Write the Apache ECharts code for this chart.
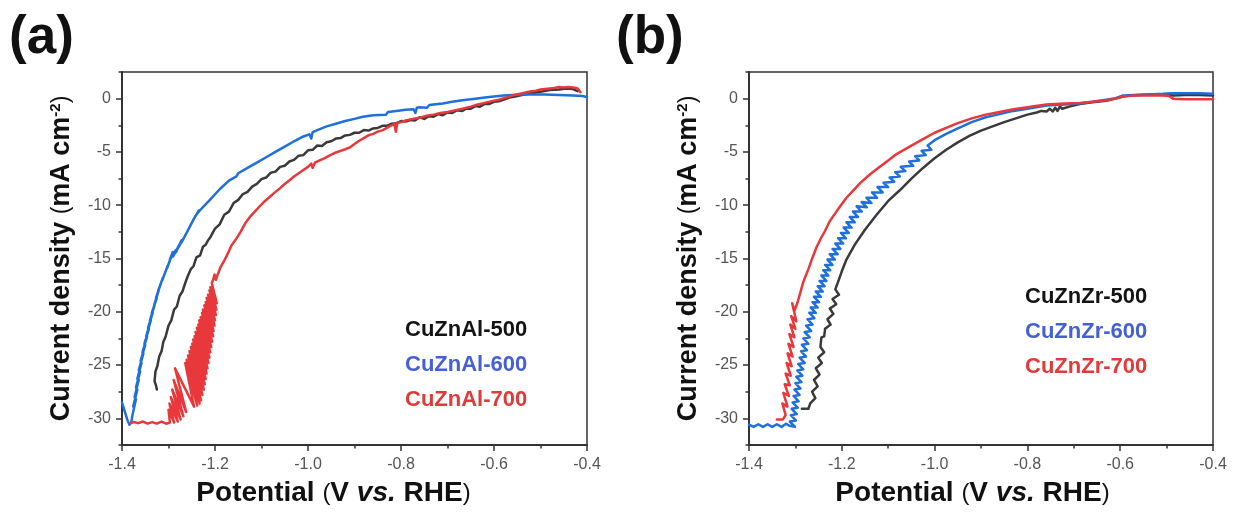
<!DOCTYPE html>
<html>
<head>
<meta charset="utf-8">
<script src="https://cdn.jsdelivr.net/npm/echarts@6/dist/echarts.min.js"></script>
<style>
html,body{margin:0;padding:0;background:#fff;}
#chart{width:1238px;height:512px;}
</style>
</head>
<body>
<div id="chart"></div>
<script>
// ---------- data ----------
const potentialTicks = [-1.4, -1.2, -1.0, -0.8, -0.6, -0.4];
const currentTicks = [0, -5, -10, -15, -20, -25, -30];
const panelLabels = ['(a)', '(b)'];
const namesA = ['CuZnAl-500', 'CuZnAl-600', 'CuZnAl-700'];
const namesB = ['CuZnZr-500', 'CuZnZr-600', 'CuZnZr-700'];

// [potential (V vs RHE), current density (mA cm-2)]
const al500 = [[-0.420,0.7],[-0.430,0.9],[-0.445,0.95],[-0.460,0.85],[-0.480,0.8],[-0.500,0.65],[-0.520,0.5],[-0.540,0.35],[-0.555,0.2],[-0.567,0.1],[-0.580,-0.1],[-0.590,-0.25],[-0.600,-0.3],[-0.610,-0.5],[-0.620,-0.5],[-0.630,-0.75],[-0.640,-0.7],[-0.650,-0.95],[-0.660,-0.95],[-0.668,-1.15],[-0.680,-1.1],[-0.690,-1.35],[-0.700,-1.3],[-0.710,-1.55],[-0.720,-1.45],[-0.730,-1.7],[-0.740,-1.65],[-0.750,-1.9],[-0.760,-1.75],[-0.770,-2.05],[-0.780,-2.0],[-0.790,-2.15],[-0.800,-2.1],[-0.810,-2.3],[-0.820,-2.35],[-0.830,-2.55],[-0.840,-2.55],[-0.850,-2.75],[-0.860,-2.8],[-0.870,-3.0],[-0.880,-2.95],[-0.890,-3.2],[-0.900,-3.2],[-0.910,-3.4],[-0.920,-3.45],[-0.930,-3.7],[-0.940,-3.75],[-0.950,-4.0],[-0.960,-4.1],[-0.970,-4.45],[-0.980,-4.4],[-0.990,-4.8],[-1.000,-4.85],[-1.010,-5.3],[-1.020,-5.35],[-1.030,-5.75],[-1.040,-5.9],[-1.050,-6.3],[-1.060,-6.4],[-1.070,-6.85],[-1.080,-6.95],[-1.090,-7.4],[-1.100,-7.55],[-1.110,-8.0],[-1.120,-8.25],[-1.130,-8.75],[-1.140,-8.95],[-1.150,-9.5],[-1.160,-9.8],[-1.170,-10.6],[-1.180,-10.9],[-1.190,-11.8],[-1.200,-12.2],[-1.210,-13.0],[-1.215,-13.3],[-1.220,-13.7],[-1.226,-13.9],[-1.232,-14.7],[-1.240,-14.9],[-1.246,-15.7],[-1.252,-16.0],[-1.258,-16.6],[-1.264,-17.3],[-1.270,-18.1],[-1.276,-18.5],[-1.282,-19.5],[-1.288,-19.8],[-1.294,-20.8],[-1.300,-21.3],[-1.306,-22.3],[-1.311,-22.8],[-1.315,-23.7],[-1.320,-24.2],[-1.324,-25.1],[-1.328,-25.6],[-1.330,-26.5],[-1.327,-26.9],[-1.325,-27.3]];

const al600 = [[-0.400,0.15],[-0.410,0.25],[-0.430,0.3],[-0.460,0.35],[-0.490,0.4],[-0.520,0.4],[-0.540,0.4],[-0.560,0.35],[-0.580,0.3],[-0.600,0.2],[-0.620,0.1],[-0.640,0.0],[-0.668,-0.16],[-0.690,-0.3],[-0.710,-0.45],[-0.730,-0.55],[-0.739,-0.6],[-0.744,-0.85],[-0.748,-0.68],[-0.760,-0.8],[-0.766,-0.85],[-0.769,-1.35],[-0.773,-1.0],[-0.790,-1.05],[-0.810,-1.15],[-0.828,-1.25],[-0.832,-1.5],[-0.836,-1.35],[-0.860,-1.55],[-0.882,-1.7],[-0.900,-1.9],[-0.920,-2.1],[-0.940,-2.35],[-0.960,-2.6],[-0.980,-2.95],[-0.990,-3.15],[-0.993,-3.75],[-0.997,-3.35],[-1.010,-3.55],[-1.030,-4.0],[-1.050,-4.5],[-1.070,-5.0],[-1.090,-5.5],[-1.110,-6.0],[-1.130,-6.5],[-1.150,-7.0],[-1.154,-7.3],[-1.157,-7.15],[-1.170,-7.7],[-1.190,-8.5],[-1.211,-9.5],[-1.233,-10.5],[-1.240,-10.9],[-1.235,-10.5],[-1.247,-11.4],[-1.242,-11.0],[-1.254,-12.0],[-1.248,-11.5],[-1.260,-12.5],[-1.254,-12.0],[-1.266,-13.0],[-1.260,-12.5],[-1.272,-13.5],[-1.266,-13.0],[-1.278,-13.9],[-1.272,-13.3],[-1.284,-14.4],[-1.278,-13.8],[-1.290,-14.8],[-1.284,-14.2],[-1.297,-15.1],[-1.291,-14.4],[-1.303,-15.9],[-1.297,-15.2],[-1.308,-16.4],[-1.302,-15.7],[-1.313,-17.0],[-1.307,-16.3],[-1.318,-17.5],[-1.312,-16.8],[-1.322,-18.0],[-1.316,-17.3],[-1.327,-18.7],[-1.321,-18.0],[-1.331,-19.4],[-1.325,-18.7],[-1.336,-20.1],[-1.330,-19.4],[-1.340,-20.8],[-1.334,-20.1],[-1.344,-21.5],[-1.338,-20.8],[-1.348,-22.3],[-1.342,-21.6],[-1.352,-23.0],[-1.346,-22.3],[-1.356,-23.8],[-1.350,-23.1],[-1.360,-24.6],[-1.354,-23.9],[-1.364,-25.5],[-1.358,-24.8],[-1.367,-26.3],[-1.361,-25.6],[-1.370,-27.1],[-1.364,-26.4],[-1.373,-28.0],[-1.367,-27.3],[-1.376,-28.9],[-1.370,-28.2],[-1.378,-29.8],[-1.380,-30.4],[-1.384,-30.6],[-1.388,-30.2],[-1.393,-29.5],[-1.400,-28.5]];

const al700 = [[-0.414,0.6],[-0.420,0.95],[-0.430,1.05],[-0.440,1.1],[-0.450,1.05],[-0.460,1.1],[-0.470,1.0],[-0.480,0.95],[-0.490,0.9],[-0.500,0.85],[-0.510,0.75],[-0.520,0.7],[-0.530,0.6],[-0.546,0.45],[-0.560,0.3],[-0.575,0.1],[-0.590,-0.1],[-0.605,-0.25],[-0.620,-0.4],[-0.635,-0.55],[-0.650,-0.75],[-0.668,-0.95],[-0.685,-1.1],[-0.700,-1.25],[-0.715,-1.35],[-0.730,-1.5],[-0.745,-1.6],[-0.760,-1.8],[-0.775,-1.9],[-0.790,-2.05],[-0.800,-2.2],[-0.808,-2.3],[-0.811,-3.1],[-0.814,-2.4],[-0.825,-2.6],[-0.839,-2.95],[-0.850,-3.1],[-0.860,-3.3],[-0.870,-3.45],[-0.880,-3.7],[-0.890,-3.95],[-0.900,-4.25],[-0.911,-4.6],[-0.920,-4.75],[-0.930,-4.9],[-0.940,-5.05],[-0.954,-5.35],[-0.965,-5.6],[-0.975,-5.8],[-0.985,-6.0],[-0.990,-6.5],[-0.993,-6.1],[-1.000,-6.4],[-1.010,-6.7],[-1.020,-7.0],[-1.030,-7.3],[-1.039,-7.64],[-1.050,-8.0],[-1.060,-8.4],[-1.070,-8.75],[-1.082,-9.2],[-1.095,-9.7],[-1.110,-10.4],[-1.125,-11.1],[-1.135,-11.7],[-1.145,-12.5],[-1.155,-13.2],[-1.165,-13.8],[-1.172,-14.5],[-1.180,-15.2],[-1.188,-15.8],[-1.195,-16.6],[-1.198,-17.0],[-1.201,-16.5],[-1.204,-17.0],[-1.207,-17.3],[-1.196,-19.2],[-1.210,-17.7],[-1.197,-19.8],[-1.212,-18.0],[-1.198,-20.3],[-1.215,-18.4],[-1.200,-20.8],[-1.218,-18.7],[-1.201,-21.3],[-1.220,-19.1],[-1.203,-21.8],[-1.223,-19.4],[-1.204,-22.3],[-1.226,-19.8],[-1.206,-22.8],[-1.228,-20.1],[-1.208,-23.3],[-1.231,-20.5],[-1.210,-23.8],[-1.234,-20.8],[-1.212,-24.3],[-1.236,-21.2],[-1.214,-24.8],[-1.239,-21.5],[-1.216,-25.3],[-1.242,-21.9],[-1.218,-25.8],[-1.244,-22.3],[-1.220,-26.3],[-1.247,-22.6],[-1.222,-26.8],[-1.249,-23.0],[-1.224,-27.3],[-1.252,-23.3],[-1.227,-27.8],[-1.255,-23.7],[-1.230,-28.3],[-1.258,-24.1],[-1.233,-28.6],[-1.261,-24.5],[-1.238,-28.8],[-1.264,-24.8],[-1.245,-28.9],[-1.286,-25.3],[-1.262,-29.4],[-1.289,-26.4],[-1.268,-29.8],[-1.292,-27.3],[-1.274,-30.1],[-1.295,-28.0],[-1.280,-30.3],[-1.298,-28.6],[-1.288,-30.4],[-1.300,-29.2],[-1.297,-30.4],[-1.305,-30.5],[-1.315,-30.3],[-1.325,-30.5],[-1.335,-30.35],[-1.345,-30.5],[-1.355,-30.3],[-1.365,-30.45],[-1.375,-30.35],[-1.382,-30.45]];

const zr500 = [[-0.400,0.3],[-0.430,0.35],[-0.460,0.35],[-0.486,0.3],[-0.500,0.4],[-0.530,0.4],[-0.560,0.35],[-0.580,0.3],[-0.594,0.2],[-0.610,0.0],[-0.630,-0.2],[-0.660,-0.35],[-0.687,-0.5],[-0.710,-0.75],[-0.725,-0.95],[-0.730,-0.75],[-0.735,-1.15],[-0.740,-0.85],[-0.745,-1.2],[-0.752,-0.95],[-0.758,-1.2],[-0.770,-1.15],[-0.780,-1.3],[-0.800,-1.5],[-0.825,-1.85],[-0.850,-2.2],[-0.875,-2.6],[-0.900,-3.0],[-0.925,-3.5],[-0.950,-4.1],[-0.975,-4.8],[-1.000,-5.6],[-1.025,-6.5],[-1.050,-7.5],[-1.075,-8.6],[-1.100,-9.6],[-1.125,-10.9],[-1.150,-12.3],[-1.172,-13.7],[-1.190,-15.1],[-1.200,-16.2],[-1.208,-17.2],[-1.214,-17.9],[-1.206,-18.4],[-1.220,-18.8],[-1.212,-19.3],[-1.226,-19.7],[-1.218,-20.2],[-1.231,-20.7],[-1.224,-21.2],[-1.236,-21.6],[-1.238,-22.3],[-1.244,-22.4],[-1.246,-23.3],[-1.238,-23.8],[-1.251,-24.3],[-1.243,-24.8],[-1.256,-25.3],[-1.248,-25.9],[-1.260,-26.4],[-1.252,-27.0],[-1.264,-27.5],[-1.257,-28.1],[-1.268,-28.6],[-1.272,-29.1],[-1.286,-29.1]];

const zr600 = [[-0.400,0.45],[-0.430,0.5],[-0.460,0.5],[-0.490,0.5],[-0.508,0.45],[-0.540,0.4],[-0.570,0.35],[-0.594,0.3],[-0.610,0.05],[-0.630,-0.1],[-0.660,-0.3],[-0.687,-0.45],[-0.720,-0.55],[-0.759,-0.65],[-0.800,-0.95],[-0.830,-1.15],[-0.860,-1.45],[-0.890,-1.75],[-0.920,-2.2],[-0.950,-2.8],[-0.975,-3.3],[-1.000,-3.9],[-1.015,-4.4],[-1.007,-4.8],[-1.028,-4.9],[-1.019,-5.3],[-1.042,-5.4],[-1.033,-5.8],[-1.055,-5.9],[-1.046,-6.3],[-1.073,-6.4],[-1.063,-6.8],[-1.085,-6.9],[-1.075,-7.3],[-1.097,-7.4],[-1.087,-7.8],[-1.110,-7.9],[-1.100,-8.3],[-1.123,-8.3],[-1.112,-8.8],[-1.135,-8.8],[-1.124,-9.3],[-1.147,-9.3],[-1.136,-9.8],[-1.157,-9.7],[-1.146,-10.2],[-1.168,-10.1],[-1.157,-10.6],[-1.176,-10.6],[-1.165,-11.1],[-1.183,-11.1],[-1.172,-11.6],[-1.190,-11.6],[-1.179,-12.1],[-1.196,-12.1],[-1.185,-12.6],[-1.202,-12.6],[-1.191,-13.1],[-1.208,-13.1],[-1.197,-13.6],[-1.214,-13.6],[-1.203,-14.1],[-1.220,-14.1],[-1.209,-14.6],[-1.226,-14.6],[-1.215,-15.1],[-1.231,-15.1],[-1.220,-15.6],[-1.236,-15.6],[-1.225,-16.1],[-1.240,-16.1],[-1.229,-16.6],[-1.244,-16.6],[-1.233,-17.1],[-1.248,-17.1],[-1.237,-17.6],[-1.252,-17.6],[-1.241,-18.1],[-1.256,-18.1],[-1.245,-18.6],[-1.260,-18.6],[-1.249,-19.1],[-1.263,-19.1],[-1.252,-19.6],[-1.267,-19.6],[-1.256,-20.1],[-1.270,-20.1],[-1.259,-20.6],[-1.274,-20.7],[-1.263,-21.2],[-1.277,-21.3],[-1.266,-21.8],[-1.280,-21.9],[-1.269,-22.4],[-1.283,-22.5],[-1.272,-23.0],[-1.286,-23.1],[-1.275,-23.6],[-1.288,-23.7],[-1.277,-24.2],[-1.291,-24.3],[-1.280,-24.8],[-1.294,-24.9],[-1.283,-25.4],[-1.296,-25.5],[-1.285,-26.0],[-1.298,-26.1],[-1.287,-26.6],[-1.300,-26.7],[-1.289,-27.2],[-1.302,-27.3],[-1.291,-27.8],[-1.304,-27.9],[-1.293,-28.4],[-1.306,-28.5],[-1.295,-29.0],[-1.308,-29.1],[-1.297,-29.6],[-1.310,-29.7],[-1.299,-30.2],[-1.312,-30.3],[-1.301,-30.8],[-1.313,-30.7],[-1.320,-30.5],[-1.330,-30.8],[-1.340,-30.55],[-1.350,-30.8],[-1.360,-30.55],[-1.370,-30.8],[-1.380,-30.55],[-1.390,-30.8],[-1.400,-30.6]];

const zr700 = [[-0.400,-0.05],[-0.430,-0.05],[-0.460,-0.05],[-0.486,0.0],[-0.495,0.25],[-0.508,0.3],[-0.540,0.3],[-0.570,0.3],[-0.594,0.2],[-0.610,0.0],[-0.630,-0.15],[-0.660,-0.3],[-0.687,-0.4],[-0.720,-0.45],[-0.759,-0.55],[-0.800,-0.8],[-0.830,-1.0],[-0.860,-1.25],[-0.890,-1.5],[-0.920,-1.85],[-0.950,-2.3],[-0.975,-2.75],[-1.000,-3.2],[-1.025,-3.8],[-1.050,-4.4],[-1.082,-5.2],[-1.100,-5.8],[-1.118,-6.4],[-1.139,-7.1],[-1.160,-7.9],[-1.175,-8.6],[-1.190,-9.3],[-1.205,-10.2],[-1.218,-11.0],[-1.226,-11.5],[-1.236,-12.4],[-1.245,-13.1],[-1.254,-13.9],[-1.263,-14.9],[-1.272,-16.0],[-1.283,-17.2],[-1.290,-18.3],[-1.296,-19.2],[-1.302,-19.9],[-1.307,-19.2],[-1.298,-20.9],[-1.309,-20.4],[-1.300,-21.6],[-1.311,-21.2],[-1.302,-22.4],[-1.313,-22.1],[-1.304,-23.3],[-1.315,-23.0],[-1.306,-24.2],[-1.317,-23.9],[-1.308,-25.1],[-1.319,-24.8],[-1.310,-26.0],[-1.321,-25.8],[-1.312,-26.9],[-1.323,-26.8],[-1.314,-27.9],[-1.326,-27.6],[-1.317,-28.9],[-1.328,-28.6],[-1.321,-29.7],[-1.327,-30.1],[-1.340,-30.1]];

// ---------- styles ----------
const lineColors = ['#3a3a3a', '#1f6fdc', '#e8383b'];
const legendColors = ['#141414', '#4560d6', '#e23a3b'];
const FONT = 'Liberation Sans, Arial, sans-serif';

const grids = [
  { left: 122, top: 72, width: 465, height: 373 },
  { left: 749, top: 72, width: 464, height: 373 }
];
const xTitleShift = [42, 17];

function mainX(g) {
  return {
    type: 'value', gridIndex: g, min: -1.4, max: -0.4, position: 'bottom',
    name: '{b|Potential }{p|(}{b|V }{i|vs.}{b| RHE}{p|)}',
    nameLocation: 'middle', nameGap: 34,
    nameTextStyle: {
      fontFamily: FONT, color: '#111', padding: [0, xTitleShift[g], 0, 0],
      rich: {
        b: { fontSize: 28, fontWeight: 'bold', color: '#111', fontFamily: FONT },
        i: { fontSize: 28, fontWeight: 'bold', fontStyle: 'italic', color: '#111', fontFamily: FONT },
        p: { fontSize: 24, color: '#111', fontFamily: FONT }
      }
    },
    axisLine: { show: true, onZero: false, lineStyle: { color: '#333', width: 2 } },
    axisTick: { show: true, inside: false, length: 6, customValues: potentialTicks, lineStyle: { color: '#333', width: 1.5 } },
    axisLabel: { show: true, customValues: potentialTicks, margin: 12, color: '#555', fontSize: 16, fontFamily: FONT,
      formatter: v => v.toFixed(1) },
    splitLine: { show: false }
  };
}
function minorX(g) {
  return {
    type: 'value', gridIndex: g, min: -1.4, max: -0.4, interval: 0.1, position: 'bottom',
    axisLine: { show: false, onZero: false },
    axisTick: { show: true, inside: false, length: 3.5, lineStyle: { color: '#333', width: 1.5 } },
    axisLabel: { show: false }, splitLine: { show: false }
  };
}
function mainY(g) {
  return {
    type: 'value', gridIndex: g, min: -32.5, max: 2.5, position: 'left',
    name: '{b|Current density }{p|(}{b|mA cm}{s|-2}{p|)}',
    nameLocation: 'middle', nameGap: 47, nameRotate: 90,
    nameTextStyle: {
      fontFamily: FONT, color: '#111',
      rich: {
        b: { fontSize: 27, fontWeight: 'bold', color: '#111', fontFamily: FONT },
        p: { fontSize: 23, color: '#111', fontFamily: FONT },
        s: { fontSize: 15, fontWeight: 'bold', color: '#111', fontFamily: FONT, verticalAlign: 'top', padding: [0, 0, 10, 0] }
      }
    },
    axisLine: { show: true, onZero: false, lineStyle: { color: '#333', width: 2 } },
    axisTick: { show: true, inside: false, length: 6, customValues: currentTicks, lineStyle: { color: '#333', width: 1.5 } },
    axisLabel: { show: true, customValues: currentTicks, margin: 11, color: '#555', fontSize: 16, fontFamily: FONT,
      formatter: v => String(v) },
    splitLine: { show: false }
  };
}
function minorY(g) {
  return {
    type: 'value', gridIndex: g, min: -32.5, max: 2.5, interval: 2.5, position: 'left',
    axisLine: { show: false, onZero: false },
    axisTick: { show: true, inside: false, length: 3.5, lineStyle: { color: '#333', width: 1.5 } },
    axisLabel: { show: false }, splitLine: { show: false }
  };
}

function mkSeries(name, data, color, axisIdx) {
  return {
    name: name, type: 'line', data: data, xAxisIndex: axisIdx, yAxisIndex: axisIdx,
    showSymbol: false, symbol: 'none', smooth: false, clip: true,
    lineStyle: { color: color, width: 2.5, join: 'round', cap: 'round' },
    itemStyle: { color: color },
    z: 3
  };
}

function mkLegend(names, left, top) {
  return {
    orient: 'vertical', left: left, top: top, icon: 'none',
    itemWidth: 0, itemHeight: 0, itemGap: 0, padding: 0,
    selectedMode: false,
    textStyle: { fontSize: 22, fontFamily: FONT, fontWeight: 'bold', lineHeight: 35 },
    data: names.map((n, i) => ({ name: n, icon: 'none', textStyle: { color: legendColors[i], fontSize: 22, fontFamily: FONT, lineHeight: 35 } }))
  };
}

const option = {
  animation: false,
  backgroundColor: '#ffffff',
  textStyle: { fontFamily: FONT },
  title: [
    { text: panelLabels[0], left: 9, top: 12, padding: 0, textStyle: { fontSize: 53, fontWeight: 'bold', color: '#111', fontFamily: FONT } },
    { text: panelLabels[1], left: 616, top: 12, padding: 0, textStyle: { fontSize: 53, fontWeight: 'bold', color: '#111', fontFamily: FONT } }
  ],
  grid: grids.map(g => Object.assign({ show: true, borderColor: '#333', borderWidth: 1.5, backgroundColor: 'transparent', containLabel: false }, g)),
  xAxis: [mainX(0), minorX(0), mainX(1), minorX(1)],
  yAxis: [mainY(0), minorY(0), mainY(1), minorY(1)],
  legend: [mkLegend(namesA, 400, 312), mkLegend(namesB, 1020, 279)],
  series: [
    mkSeries(namesA[0], al500, lineColors[0], 0),
    mkSeries(namesA[1], al600, lineColors[1], 0),
    mkSeries(namesA[2], al700, lineColors[2], 0),
    mkSeries(namesB[0], zr500, lineColors[0], 2),
    mkSeries(namesB[1], zr600, lineColors[1], 2),
    mkSeries(namesB[2], zr700, lineColors[2], 2)
  ]
};

const chart = echarts.init(document.getElementById('chart'), null, { renderer: 'canvas' });
chart.setOption(option);
</script>
</body>
</html>
